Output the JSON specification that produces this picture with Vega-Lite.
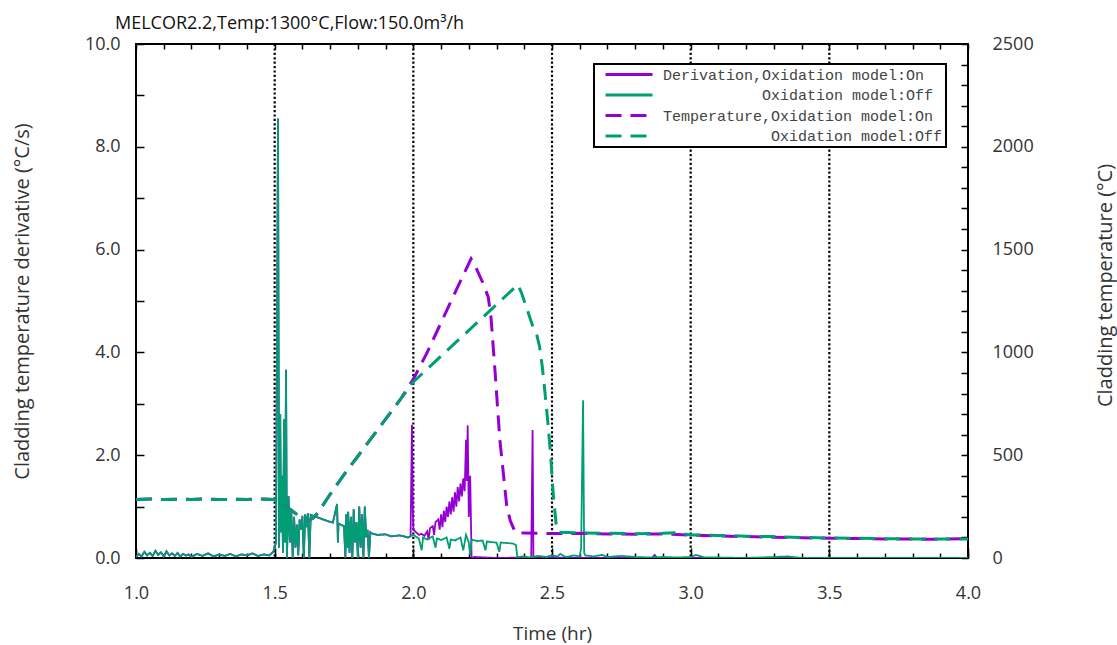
{
  "$schema": "https://vega.github.io/schema/vega-lite/v6.json",
  "width": 832,
  "height": 514,
  "autosize": {"type": "none"},
  "padding": {"left": 136, "top": 44, "right": 149, "bottom": 87},
  "background": "white",
  "title": {"text": "MELCOR2.2,Temp:1300°C,Flow:150.0m³/h", "anchor": "start", "dx": 103, "dy": 28, "offset": 12, "baseline": "bottom", "font": "Open Sans", "fontSize": 18, "fontWeight": "normal", "color": "#111"},
  "datasets": {
    "deriv": [
      {"time":1.00,"value":0.02,"series":"DOn"},{"time":1.01,"value":0.08,"series":"DOn"},{"time":1.02,"value":0.03,"series":"DOn"},{"time":1.03,"value":0.12,"series":"DOn"},{"time":1.04,"value":0.05,"series":"DOn"},{"time":1.05,"value":0.10,"series":"DOn"},{"time":1.06,"value":0.04,"series":"DOn"},{"time":1.07,"value":0.14,"series":"DOn"},{"time":1.08,"value":0.06,"series":"DOn"},{"time":1.09,"value":0.11,"series":"DOn"},{"time":1.10,"value":0.03,"series":"DOn"},{"time":1.11,"value":0.13,"series":"DOn"},{"time":1.12,"value":0.05,"series":"DOn"},{"time":1.13,"value":0.09,"series":"DOn"},{"time":1.14,"value":0.04,"series":"DOn"},{"time":1.15,"value":0.10,"series":"DOn"},{"time":1.16,"value":0.03,"series":"DOn"},{"time":1.17,"value":0.08,"series":"DOn"},{"time":1.18,"value":0.05,"series":"DOn"},{"time":1.19,"value":0.07,"series":"DOn"},{"time":1.20,"value":0.02,"series":"DOn"},{"time":1.22,"value":0.08,"series":"DOn"},{"time":1.24,"value":0.04,"series":"DOn"},{"time":1.26,"value":0.09,"series":"DOn"},{"time":1.28,"value":0.03,"series":"DOn"},{"time":1.30,"value":0.07,"series":"DOn"},{"time":1.32,"value":0.04,"series":"DOn"},{"time":1.34,"value":0.08,"series":"DOn"},{"time":1.36,"value":0.03,"series":"DOn"},{"time":1.38,"value":0.07,"series":"DOn"},{"time":1.40,"value":0.05,"series":"DOn"},{"time":1.42,"value":0.09,"series":"DOn"},{"time":1.44,"value":0.04,"series":"DOn"},{"time":1.46,"value":0.07,"series":"DOn"},{"time":1.48,"value":0.05,"series":"DOn"},{"time":1.495,"value":0.12,"series":"DOn"},{"time":1.505,"value":0.3,"series":"DOn"},{"time":1.512,"value":8.55,"series":"DOn"},{"time":1.516,"value":0.2,"series":"DOn"},{"time":1.52,"value":2.8,"series":"DOn"},{"time":1.523,"value":0.5,"series":"DOn"},{"time":1.526,"value":1.6,"series":"DOn"},{"time":1.53,"value":0.1,"series":"DOn"},{"time":1.534,"value":2.7,"series":"DOn"},{"time":1.537,"value":0.3,"series":"DOn"},{"time":1.541,"value":3.66,"series":"DOn"},{"time":1.544,"value":0.0,"series":"DOn"},{"time":1.55,"value":1.2,"series":"DOn"},{"time":1.555,"value":0.3,"series":"DOn"},{"time":1.56,"value":0.9,"series":"DOn"},{"time":1.565,"value":0.0,"series":"DOn"},{"time":1.57,"value":0.8,"series":"DOn"},{"time":1.575,"value":0.2,"series":"DOn"},{"time":1.58,"value":0.65,"series":"DOn"},{"time":1.585,"value":0.05,"series":"DOn"},{"time":1.59,"value":0.75,"series":"DOn"},{"time":1.595,"value":0.55,"series":"DOn"},{"time":1.60,"value":0.82,"series":"DOn"},{"time":1.605,"value":0.0,"series":"DOn"},{"time":1.61,"value":0.85,"series":"DOn"},{"time":1.615,"value":0.6,"series":"DOn"},{"time":1.62,"value":0.87,"series":"DOn"},{"time":1.625,"value":0.0,"series":"DOn"},{"time":1.63,"value":0.84,"series":"DOn"},{"time":1.65,"value":0.80,"series":"DOn"},{"time":1.67,"value":0.76,"series":"DOn"},{"time":1.69,"value":0.72,"series":"DOn"},{"time":1.71,"value":0.69,"series":"DOn"},{"time":1.725,"value":1.05,"series":"DOn"},{"time":1.728,"value":0.3,"series":"DOn"},{"time":1.73,"value":0.67,"series":"DOn"},{"time":1.75,"value":0.62,"series":"DOn"},{"time":1.755,"value":0.0,"series":"DOn"},{"time":1.758,"value":0.85,"series":"DOn"},{"time":1.762,"value":0.2,"series":"DOn"},{"time":1.765,"value":0.9,"series":"DOn"},{"time":1.77,"value":0.1,"series":"DOn"},{"time":1.775,"value":0.8,"series":"DOn"},{"time":1.78,"value":0.0,"series":"DOn"},{"time":1.785,"value":0.95,"series":"DOn"},{"time":1.79,"value":0.3,"series":"DOn"},{"time":1.795,"value":0.7,"series":"DOn"},{"time":1.80,"value":0.0,"series":"DOn"},{"time":1.805,"value":1.0,"series":"DOn"},{"time":1.81,"value":0.2,"series":"DOn"},{"time":1.815,"value":0.85,"series":"DOn"},{"time":1.82,"value":0.0,"series":"DOn"},{"time":1.825,"value":1.0,"series":"DOn"},{"time":1.83,"value":0.4,"series":"DOn"},{"time":1.835,"value":0.55,"series":"DOn"},{"time":1.84,"value":0.0,"series":"DOn"},{"time":1.845,"value":0.5,"series":"DOn"},{"time":1.85,"value":0.48,"series":"DOn"},{"time":1.87,"value":0.45,"series":"DOn"},{"time":1.90,"value":0.46,"series":"DOn"},{"time":1.92,"value":0.42,"series":"DOn"},{"time":1.95,"value":0.44,"series":"DOn"},{"time":1.98,"value":0.40,"series":"DOn"},
      {"time":1.99,"value":0.42,"series":"DOn"},{"time":1.995,"value":2.59,"series":"DOn"},{"time":1.998,"value":1.0,"series":"DOn"},{"time":2.00,"value":0.55,"series":"DOn"},{"time":2.01,"value":0.50,"series":"DOn"},{"time":2.02,"value":0.45,"series":"DOn"},{"time":2.03,"value":0.47,"series":"DOn"},{"time":2.04,"value":0.43,"series":"DOn"},{"time":2.05,"value":0.52,"series":"DOn"},{"time":2.055,"value":0.35,"series":"DOn"},{"time":2.06,"value":0.58,"series":"DOn"},{"time":2.07,"value":0.62,"series":"DOn"},{"time":2.075,"value":0.45,"series":"DOn"},{"time":2.08,"value":0.70,"series":"DOn"},{"time":2.09,"value":0.75,"series":"DOn"},{"time":2.095,"value":0.55,"series":"DOn"},{"time":2.10,"value":0.85,"series":"DOn"},{"time":2.105,"value":0.6,"series":"DOn"},{"time":2.11,"value":0.92,"series":"DOn"},{"time":2.115,"value":0.7,"series":"DOn"},{"time":2.12,"value":1.0,"series":"DOn"},{"time":2.125,"value":0.8,"series":"DOn"},{"time":2.13,"value":1.1,"series":"DOn"},{"time":2.135,"value":0.85,"series":"DOn"},{"time":2.14,"value":1.18,"series":"DOn"},{"time":2.145,"value":0.9,"series":"DOn"},{"time":2.15,"value":1.28,"series":"DOn"},{"time":2.155,"value":1.0,"series":"DOn"},{"time":2.16,"value":1.38,"series":"DOn"},{"time":2.165,"value":1.1,"series":"DOn"},{"time":2.17,"value":1.45,"series":"DOn"},{"time":2.175,"value":1.2,"series":"DOn"},{"time":2.18,"value":1.55,"series":"DOn"},{"time":2.185,"value":1.3,"series":"DOn"},{"time":2.19,"value":2.3,"series":"DOn"},{"time":2.193,"value":1.5,"series":"DOn"},{"time":2.196,"value":2.58,"series":"DOn"},{"time":2.20,"value":0.8,"series":"DOn"},{"time":2.205,"value":1.6,"series":"DOn"},{"time":2.21,"value":0.0,"series":"DOn"},{"time":2.22,"value":0.02,"series":"DOn"},{"time":2.30,"value":0.0,"series":"DOn"},{"time":2.40,"value":0.01,"series":"DOn"},{"time":2.425,"value":0.0,"series":"DOn"},{"time":2.43,"value":2.49,"series":"DOn"},{"time":2.433,"value":0.0,"series":"DOn"},{"time":2.45,"value":0.02,"series":"DOn"},{"time":2.50,"value":0.01,"series":"DOn"},{"time":2.60,"value":0.0,"series":"DOn"},{"time":2.86,"value":0.0,"series":"DOn"},{"time":2.87,"value":0.06,"series":"DOn"},{"time":2.88,"value":0.0,"series":"DOn"},{"time":3.00,"value":0.0,"series":"DOn"},{"time":4.00,"value":0.0,"series":"DOn"},
      {"time":1.00,"value":0.02,"series":"DOff"},{"time":1.01,"value":0.08,"series":"DOff"},{"time":1.02,"value":0.03,"series":"DOff"},{"time":1.03,"value":0.12,"series":"DOff"},{"time":1.04,"value":0.05,"series":"DOff"},{"time":1.05,"value":0.10,"series":"DOff"},{"time":1.06,"value":0.04,"series":"DOff"},{"time":1.07,"value":0.14,"series":"DOff"},{"time":1.08,"value":0.06,"series":"DOff"},{"time":1.09,"value":0.11,"series":"DOff"},{"time":1.10,"value":0.03,"series":"DOff"},{"time":1.11,"value":0.13,"series":"DOff"},{"time":1.12,"value":0.05,"series":"DOff"},{"time":1.13,"value":0.09,"series":"DOff"},{"time":1.14,"value":0.04,"series":"DOff"},{"time":1.15,"value":0.10,"series":"DOff"},{"time":1.16,"value":0.03,"series":"DOff"},{"time":1.17,"value":0.08,"series":"DOff"},{"time":1.18,"value":0.05,"series":"DOff"},{"time":1.19,"value":0.07,"series":"DOff"},{"time":1.20,"value":0.02,"series":"DOff"},{"time":1.22,"value":0.08,"series":"DOff"},{"time":1.24,"value":0.04,"series":"DOff"},{"time":1.26,"value":0.09,"series":"DOff"},{"time":1.28,"value":0.03,"series":"DOff"},{"time":1.30,"value":0.07,"series":"DOff"},{"time":1.32,"value":0.04,"series":"DOff"},{"time":1.34,"value":0.08,"series":"DOff"},{"time":1.36,"value":0.03,"series":"DOff"},{"time":1.38,"value":0.07,"series":"DOff"},{"time":1.40,"value":0.05,"series":"DOff"},{"time":1.42,"value":0.09,"series":"DOff"},{"time":1.44,"value":0.04,"series":"DOff"},{"time":1.46,"value":0.07,"series":"DOff"},{"time":1.48,"value":0.05,"series":"DOff"},{"time":1.495,"value":0.12,"series":"DOff"},{"time":1.505,"value":0.3,"series":"DOff"},{"time":1.512,"value":8.55,"series":"DOff"},{"time":1.516,"value":0.2,"series":"DOff"},{"time":1.52,"value":2.8,"series":"DOff"},{"time":1.523,"value":0.5,"series":"DOff"},{"time":1.526,"value":1.6,"series":"DOff"},{"time":1.53,"value":0.1,"series":"DOff"},{"time":1.534,"value":2.7,"series":"DOff"},{"time":1.537,"value":0.3,"series":"DOff"},{"time":1.541,"value":3.66,"series":"DOff"},{"time":1.544,"value":0.0,"series":"DOff"},{"time":1.55,"value":1.2,"series":"DOff"},{"time":1.555,"value":0.3,"series":"DOff"},{"time":1.56,"value":0.9,"series":"DOff"},{"time":1.565,"value":0.0,"series":"DOff"},{"time":1.57,"value":0.8,"series":"DOff"},{"time":1.575,"value":0.2,"series":"DOff"},{"time":1.58,"value":0.65,"series":"DOff"},{"time":1.585,"value":0.05,"series":"DOff"},{"time":1.59,"value":0.75,"series":"DOff"},{"time":1.595,"value":0.55,"series":"DOff"},{"time":1.60,"value":0.82,"series":"DOff"},{"time":1.605,"value":0.0,"series":"DOff"},{"time":1.61,"value":0.85,"series":"DOff"},{"time":1.615,"value":0.6,"series":"DOff"},{"time":1.62,"value":0.87,"series":"DOff"},{"time":1.625,"value":0.0,"series":"DOff"},{"time":1.63,"value":0.84,"series":"DOff"},{"time":1.65,"value":0.80,"series":"DOff"},{"time":1.67,"value":0.76,"series":"DOff"},{"time":1.69,"value":0.72,"series":"DOff"},{"time":1.71,"value":0.69,"series":"DOff"},{"time":1.725,"value":1.05,"series":"DOff"},{"time":1.728,"value":0.3,"series":"DOff"},{"time":1.73,"value":0.67,"series":"DOff"},{"time":1.75,"value":0.62,"series":"DOff"},{"time":1.755,"value":0.0,"series":"DOff"},{"time":1.758,"value":0.85,"series":"DOff"},{"time":1.762,"value":0.2,"series":"DOff"},{"time":1.765,"value":0.9,"series":"DOff"},{"time":1.77,"value":0.1,"series":"DOff"},{"time":1.775,"value":0.8,"series":"DOff"},{"time":1.78,"value":0.0,"series":"DOff"},{"time":1.785,"value":0.95,"series":"DOff"},{"time":1.79,"value":0.3,"series":"DOff"},{"time":1.795,"value":0.7,"series":"DOff"},{"time":1.80,"value":0.0,"series":"DOff"},{"time":1.805,"value":1.0,"series":"DOff"},{"time":1.81,"value":0.2,"series":"DOff"},{"time":1.815,"value":0.85,"series":"DOff"},{"time":1.82,"value":0.0,"series":"DOff"},{"time":1.825,"value":1.0,"series":"DOff"},{"time":1.83,"value":0.4,"series":"DOff"},{"time":1.835,"value":0.55,"series":"DOff"},{"time":1.84,"value":0.0,"series":"DOff"},{"time":1.845,"value":0.5,"series":"DOff"},{"time":1.85,"value":0.48,"series":"DOff"},{"time":1.87,"value":0.45,"series":"DOff"},{"time":1.90,"value":0.46,"series":"DOff"},{"time":1.92,"value":0.42,"series":"DOff"},{"time":1.95,"value":0.44,"series":"DOff"},{"time":1.98,"value":0.40,"series":"DOff"},{"time":2.00,"value":0.45,"series":"DOff"},{"time":2.02,"value":0.38,"series":"DOff"},{"time":2.03,"value":0.15,"series":"DOff"},{"time":2.035,"value":0.40,"series":"DOff"},{"time":2.05,"value":0.36,"series":"DOff"},{"time":2.07,"value":0.42,"series":"DOff"},{"time":2.08,"value":0.20,"series":"DOff"},{"time":2.085,"value":0.38,"series":"DOff"},{"time":2.10,"value":0.35,"series":"DOff"},{"time":2.12,"value":0.40,"series":"DOff"},{"time":2.13,"value":0.18,"series":"DOff"},{"time":2.135,"value":0.36,"series":"DOff"},{"time":2.15,"value":0.34,"series":"DOff"},{"time":2.17,"value":0.40,"series":"DOff"},{"time":2.18,"value":0.15,"series":"DOff"},{"time":2.19,"value":0.45,"series":"DOff"},{"time":2.20,"value":0.30,"series":"DOff"},{"time":2.205,"value":0.05,"series":"DOff"},{"time":2.21,"value":0.36,"series":"DOff"},{"time":2.23,"value":0.33,"series":"DOff"},{"time":2.25,"value":0.34,"series":"DOff"},{"time":2.26,"value":0.15,"series":"DOff"},{"time":2.265,"value":0.32,"series":"DOff"},{"time":2.28,"value":0.31,"series":"DOff"},{"time":2.30,"value":0.30,"series":"DOff"},{"time":2.31,"value":0.12,"series":"DOff"},{"time":2.315,"value":0.30,"series":"DOff"},{"time":2.34,"value":0.29,"series":"DOff"},{"time":2.36,"value":0.28,"series":"DOff"},{"time":2.37,"value":0.25,"series":"DOff"},{"time":2.375,"value":0.02,"series":"DOff"},{"time":2.40,"value":0.03,"series":"DOff"},{"time":2.42,"value":0.01,"series":"DOff"},{"time":2.45,"value":0.04,"series":"DOff"},{"time":2.48,"value":0.02,"series":"DOff"},{"time":2.50,"value":0.05,"series":"DOff"},{"time":2.52,"value":0.03,"series":"DOff"},{"time":2.53,"value":0.08,"series":"DOff"},{"time":2.55,"value":0.02,"series":"DOff"},{"time":2.58,"value":0.05,"series":"DOff"},{"time":2.60,"value":0.03,"series":"DOff"},{"time":2.605,"value":0.2,"series":"DOff"},{"time":2.612,"value":3.07,"series":"DOff"},{"time":2.616,"value":0.1,"series":"DOff"},{"time":2.62,"value":0.05,"series":"DOff"},{"time":2.65,"value":0.03,"series":"DOff"},{"time":2.68,"value":0.06,"series":"DOff"},{"time":2.70,"value":0.02,"series":"DOff"},{"time":2.75,"value":0.04,"series":"DOff"},{"time":2.80,"value":0.02,"series":"DOff"},{"time":2.85,"value":0.01,"series":"DOff"},{"time":2.90,"value":0.02,"series":"DOff"},{"time":2.95,"value":0.01,"series":"DOff"},{"time":3.00,"value":0.02,"series":"DOff"},{"time":3.02,"value":0.06,"series":"DOff"},{"time":3.05,"value":0.01,"series":"DOff"},{"time":3.10,"value":0.01,"series":"DOff"},{"time":3.20,"value":0.0,"series":"DOff"},{"time":3.35,"value":0.03,"series":"DOff"},{"time":3.40,"value":0.0,"series":"DOff"},{"time":3.60,"value":0.0,"series":"DOff"},{"time":4.00,"value":0.0,"series":"DOff"}
    ],
    "temp": [
      {"time":1.00,"value":285,"series":"TOn"},{"time":1.05,"value":287,"series":"TOn"},{"time":1.10,"value":284,"series":"TOn"},{"time":1.15,"value":286,"series":"TOn"},{"time":1.20,"value":285,"series":"TOn"},{"time":1.25,"value":287,"series":"TOn"},{"time":1.30,"value":284,"series":"TOn"},{"time":1.35,"value":286,"series":"TOn"},{"time":1.40,"value":285,"series":"TOn"},{"time":1.45,"value":287,"series":"TOn"},{"time":1.50,"value":285,"series":"TOn"},{"time":1.51,"value":280,"series":"TOn"},{"time":1.53,"value":262,"series":"TOn"},{"time":1.56,"value":232,"series":"TOn"},{"time":1.59,"value":202,"series":"TOn"},{"time":1.62,"value":180,"series":"TOn"},{"time":1.64,"value":195,"series":"TOn"},{"time":1.66,"value":228,"series":"TOn"},{"time":1.70,"value":310,"series":"TOn"},{"time":1.75,"value":405,"series":"TOn"},{"time":1.80,"value":495,"series":"TOn"},{"time":1.85,"value":585,"series":"TOn"},{"time":1.90,"value":675,"series":"TOn"},{"time":1.95,"value":765,"series":"TOn"},{"time":2.00,"value":870,"series":"TOn"},{"time":2.05,"value":1000,"series":"TOn"},{"time":2.10,"value":1145,"series":"TOn"},{"time":2.15,"value":1290,"series":"TOn"},{"time":2.208,"value":1455,"series":"TOn"},{"time":2.225,"value":1415,"series":"TOn"},{"time":2.25,"value":1340,"series":"TOn"},{"time":2.27,"value":1270,"series":"TOn"},{"time":2.28,"value":1172,"series":"TOn"},{"time":2.295,"value":900,"series":"TOn"},{"time":2.312,"value":574,"series":"TOn"},{"time":2.337,"value":250,"series":"TOn"},{"time":2.35,"value":180,"series":"TOn"},{"time":2.367,"value":126,"series":"TOn"},{"time":2.40,"value":121,"series":"TOn"},{"time":2.50,"value":119,"series":"TOn"},{"time":2.60,"value":120,"series":"TOn"},{"time":2.70,"value":117,"series":"TOn"},{"time":2.80,"value":116,"series":"TOn"},{"time":2.90,"value":117,"series":"TOn"},{"time":3.00,"value":111,"series":"TOn"},{"time":3.10,"value":107,"series":"TOn"},{"time":3.20,"value":104,"series":"TOn"},{"time":3.30,"value":101,"series":"TOn"},{"time":3.40,"value":99,"series":"TOn"},{"time":3.50,"value":96,"series":"TOn"},{"time":3.60,"value":95,"series":"TOn"},{"time":3.70,"value":93,"series":"TOn"},{"time":3.80,"value":92,"series":"TOn"},{"time":3.90,"value":91,"series":"TOn"},{"time":4.00,"value":95,"series":"TOn"},
      {"time":1.00,"value":285,"series":"TOff"},{"time":1.05,"value":287,"series":"TOff"},{"time":1.10,"value":284,"series":"TOff"},{"time":1.15,"value":286,"series":"TOff"},{"time":1.20,"value":285,"series":"TOff"},{"time":1.25,"value":287,"series":"TOff"},{"time":1.30,"value":284,"series":"TOff"},{"time":1.35,"value":286,"series":"TOff"},{"time":1.40,"value":285,"series":"TOff"},{"time":1.45,"value":287,"series":"TOff"},{"time":1.50,"value":285,"series":"TOff"},{"time":1.51,"value":280,"series":"TOff"},{"time":1.53,"value":262,"series":"TOff"},{"time":1.56,"value":232,"series":"TOff"},{"time":1.59,"value":202,"series":"TOff"},{"time":1.62,"value":180,"series":"TOff"},{"time":1.64,"value":195,"series":"TOff"},{"time":1.66,"value":228,"series":"TOff"},{"time":1.70,"value":310,"series":"TOff"},{"time":1.75,"value":405,"series":"TOff"},{"time":1.80,"value":495,"series":"TOff"},{"time":1.85,"value":585,"series":"TOff"},{"time":1.90,"value":675,"series":"TOff"},{"time":1.95,"value":765,"series":"TOff"},{"time":2.00,"value":856,"series":"TOff"},{"time":2.05,"value":919,"series":"TOff"},{"time":2.10,"value":982,"series":"TOff"},{"time":2.15,"value":1045,"series":"TOff"},{"time":2.20,"value":1107,"series":"TOff"},{"time":2.25,"value":1170,"series":"TOff"},{"time":2.30,"value":1233,"series":"TOff"},{"time":2.35,"value":1296,"series":"TOff"},{"time":2.377,"value":1330,"series":"TOff"},{"time":2.39,"value":1290,"series":"TOff"},{"time":2.41,"value":1210,"series":"TOff"},{"time":2.43,"value":1130,"series":"TOff"},{"time":2.445,"value":1085,"series":"TOff"},{"time":2.455,"value":1030,"series":"TOff"},{"time":2.465,"value":930,"series":"TOff"},{"time":2.475,"value":800,"series":"TOff"},{"time":2.485,"value":660,"series":"TOff"},{"time":2.495,"value":500,"series":"TOff"},{"time":2.505,"value":300,"series":"TOff"},{"time":2.515,"value":165,"series":"TOff"},{"time":2.525,"value":125,"series":"TOff"},{"time":2.60,"value":122,"series":"TOff"},{"time":2.70,"value":120,"series":"TOff"},{"time":2.80,"value":118,"series":"TOff"},{"time":2.90,"value":120,"series":"TOff"},{"time":2.95,"value":123,"series":"TOff"},{"time":3.00,"value":112,"series":"TOff"},{"time":3.10,"value":110,"series":"TOff"},{"time":3.20,"value":106,"series":"TOff"},{"time":3.30,"value":104,"series":"TOff"},{"time":3.40,"value":100,"series":"TOff"},{"time":3.50,"value":97,"series":"TOff"},{"time":3.60,"value":96,"series":"TOff"},{"time":3.70,"value":94,"series":"TOff"},{"time":3.80,"value":93,"series":"TOff"},{"time":3.90,"value":92,"series":"TOff"},{"time":4.00,"value":93,"series":"TOff"}
    ]
  },
  "layer": [
    {
      "data": {"values": [{"grid":1.5},{"grid":2.0},{"grid":2.5},{"grid":3.0},{"grid":3.5}]},
      "mark": {"type": "rule", "color": "black", "strokeWidth": 2.2, "strokeDash": [2.2, 2.2]},
      "encoding": {
        "x": {"field": "grid", "type": "quantitative", "scale": {"domain": [1, 4], "nice": false},
          "axis": {"orient": "bottom", "values": [1,1.1,1.2,1.3,1.4,1.5,1.6,1.7,1.8,1.9,2,2.1,2.2,2.3,2.4,2.5,2.6,2.7,2.8,2.9,3,3.1,3.2,3.3,3.4,3.5,3.6,3.7,3.8,3.9,4], "tickSize": -5, "labels": false, "title": null}}
      }
    },
    {
      "data": {"name": "deriv"},
      "mark": {"type": "line", "strokeWidth": 1.8, "clip": true},
      "encoding": {
        "x": {"field": "time", "type": "quantitative", "scale": {"domain": [1, 4], "nice": false},
          "axis": {"orient": "bottom", "values": [1,1.5,2,2.5,3,3.5,4], "format": ".1f", "tickSize": -10, "labelPadding": 36, "title": "Time (hr)", "titleX": 416, "titleY": 75, "titleBaseline": "middle"}},
        "y": {"field": "value", "type": "quantitative", "scale": {"domain": [0, 10], "nice": false},
          "axis": {"orient": "left", "values": [0,1,2,3,4,5,6,7,8,9,10], "labelExpr": "datum.value % 2 == 0 ? format(datum.value, '.1f') : ''", "tickSize": -8, "labelPadding": 24, "title": "Cladding temperature derivative (°C/s)", "titleX": -114, "titleY": 257, "titleBaseline": "middle", "titleFontSize": 20}},
        "color": {"field": "series", "type": "nominal",
          "scale": {"domain": ["DOn","DOff","TOn","TOff"], "range": ["#9400d3","#009e73","#9400d3","#009e73"]},
          "legend": {"title": null, "labelExpr": "datum.label == 'DOn' ? 'Derivation,Oxidation model:On' : datum.label == 'DOff' ? '\u200b\u00a0\u00a0\u00a0\u00a0\u00a0\u00a0\u00a0\u00a0\u00a0\u00a0\u00a0Oxidation model:Off' : datum.label == 'TOn' ? 'Temperature,Oxidation model:On' : '\u200b\u00a0\u00a0\u00a0\u00a0\u00a0\u00a0\u00a0\u00a0\u00a0\u00a0\u00a0\u00a0Oxidation model:Off'"}},
        "strokeDash": {"field": "series", "type": "nominal",
          "scale": {"domain": ["DOn","DOff","TOn","TOff"], "range": [[1,0],[1,0],[16,9],[16,9]]},
          "legend": {"title": null, "labelExpr": "datum.label == 'DOn' ? 'Derivation,Oxidation model:On' : datum.label == 'DOff' ? '\u200b\u00a0\u00a0\u00a0\u00a0\u00a0\u00a0\u00a0\u00a0\u00a0\u00a0\u00a0Oxidation model:Off' : datum.label == 'TOn' ? 'Temperature,Oxidation model:On' : '\u200b\u00a0\u00a0\u00a0\u00a0\u00a0\u00a0\u00a0\u00a0\u00a0\u00a0\u00a0\u00a0Oxidation model:Off'"}}
      }
    },
    {
      "data": {"name": "temp"},
      "mark": {"type": "line", "strokeWidth": 3, "clip": true},
      "encoding": {
        "x": {"field": "time", "type": "quantitative", "scale": {"domain": [1, 4], "nice": false},
          "axis": {"orient": "top", "values": [1,1.1,1.2,1.3,1.4,1.5,1.6,1.7,1.8,1.9,2,2.1,2.2,2.3,2.4,2.5,2.6,2.7,2.8,2.9,3,3.1,3.2,3.3,3.4,3.5,3.6,3.7,3.8,3.9,4], "tickSize": -5, "labels": false, "title": null}},
        "y": {"field": "value", "type": "quantitative", "scale": {"domain": [0, 2500], "nice": false},
          "axis": {"orient": "right", "values": [0,100,200,300,400,500,600,700,800,900,1000,1100,1200,1300,1400,1500,1600,1700,1800,1900,2000,2100,2200,2300,2400,2500], "labelExpr": "datum.value % 500 == 0 ? format(datum.value, 'd') : ''", "tickSize": -7, "labelPadding": 31, "title": "Cladding temperature (°C)", "titleAngle": 270, "titleX": 137, "titleY": 241, "titleBaseline": "middle", "titleFontSize": 20}},
        "color": {"field": "series", "type": "nominal",
          "scale": {"domain": ["DOn","DOff","TOn","TOff"], "range": ["#9400d3","#009e73","#9400d3","#009e73"]},
          "legend": {"title": null, "labelExpr": "datum.label == 'DOn' ? 'Derivation,Oxidation model:On' : datum.label == 'DOff' ? '\u200b\u00a0\u00a0\u00a0\u00a0\u00a0\u00a0\u00a0\u00a0\u00a0\u00a0\u00a0Oxidation model:Off' : datum.label == 'TOn' ? 'Temperature,Oxidation model:On' : '\u200b\u00a0\u00a0\u00a0\u00a0\u00a0\u00a0\u00a0\u00a0\u00a0\u00a0\u00a0\u00a0Oxidation model:Off'"}},
        "strokeDash": {"field": "series", "type": "nominal",
          "scale": {"domain": ["DOn","DOff","TOn","TOff"], "range": [[1,0],[1,0],[16,9],[16,9]]},
          "legend": {"title": null, "labelExpr": "datum.label == 'DOn' ? 'Derivation,Oxidation model:On' : datum.label == 'DOff' ? '\u200b\u00a0\u00a0\u00a0\u00a0\u00a0\u00a0\u00a0\u00a0\u00a0\u00a0\u00a0Oxidation model:Off' : datum.label == 'TOn' ? 'Temperature,Oxidation model:On' : '\u200b\u00a0\u00a0\u00a0\u00a0\u00a0\u00a0\u00a0\u00a0\u00a0\u00a0\u00a0\u00a0Oxidation model:Off'"}}
      }
    }
  ],
  "resolve": {"scale": {"y": "independent"}, "axis": {"x": "independent", "y": "independent"}},
  "config": {
    "view": {"stroke": "black", "strokeWidth": 2},
    "axis": {"labelFont": "Open Sans", "labelFontSize": 18, "labelColor": "#333", "labelFlush": false, "titleFont": "Open Sans", "titleFontSize": 19, "titleFontWeight": "normal", "titleColor": "#333", "tickColor": "black", "tickWidth": 1.5, "domain": false, "grid": false},
    "legend": {"orient": "none", "legendX": 458, "legendY": 20, "fillColor": "white", "strokeColor": "black", "strokeWidth": 2, "padding": 3, "symbolType": "M0.2,0H9.6", "symbolSize": 100, "symbolStrokeWidth": 3, "labelFont": "Liberation Mono", "labelFontSize": 15, "labelColor": "#444", "labelOffset": 51, "labelLimit": 500, "rowPadding": 4.5}
  }
}
